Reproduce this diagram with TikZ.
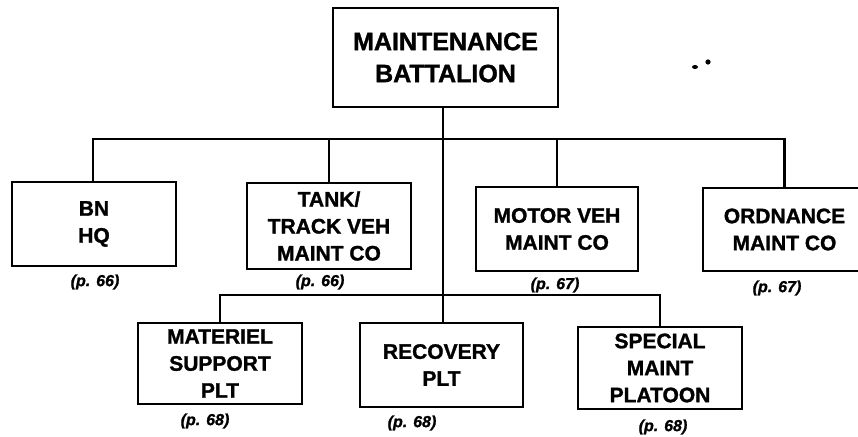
\documentclass[tikz,border=0pt]{standalone}
\usepackage{fontspec}
\setmainfont{Liberation Sans}[BoldFeatures={FakeBold=1.3},BoldItalicFeatures={FakeBold=1.3}]
\begin{document}
\begin{tikzpicture}[x=1pt,y=-1pt,
  box/.style={draw,line width=2.6pt,inner sep=0pt,align=center,font=\bfseries\fontsize{21}{27}\selectfont},
  topbox/.style={box,font=\bfseries\fontsize{25}{32}\selectfont},
  pg/.style={font=\bfseries\itshape\fontsize{16}{18}\selectfont,inner sep=0pt},
  wire/.style={line width=2.6pt}]
\useasboundingbox (0,0) rectangle (858,436);
\node[topbox,minimum width=225pt,minimum height=99pt] (top) at (445.5,57.5) {MAINTENANCE\\BATTALION};
\node[box,minimum width=164pt,minimum height=84pt] (bn) at (94,224) {BN\\HQ};
\node[box,minimum width=164pt,minimum height=86pt] (tank) at (329,226) {TANK/\\TRACK VEH\\MAINT CO};
\node[box,minimum width=162pt,minimum height=84pt] (motor) at (557,229) {MOTOR VEH\\MAINT CO};
\node[box,minimum width=163pt,minimum height=83pt] (ord) at (784.5,229.5) {ORDNANCE\\MAINT CO};
\node[box,minimum width=164pt,minimum height=81pt] (mat) at (220,363.5) {MATERIEL\\SUPPORT\\PLT};
\node[box,minimum width=163pt,minimum height=84pt] (rec) at (441.5,365) {RECOVERY\\PLT};
\node[box,minimum width=164pt,minimum height=82pt] (spec) at (660,368) {SPECIAL\\MAINT\\PLATOON};
\node[pg] (pbn) at (95,282) {(p. 66)};
\node[pg] (ptank) at (320,282) {(p. 66)};
\node[pg] (pmotor) at (555,285) {(p. 67)};
\node[pg] (pord) at (777,288) {(p. 67)};
\node[pg] (pmat) at (205,421) {(p. 68)};
\node[pg] (prec) at (412,423) {(p. 68)};
\node[pg] (pspec) at (663,427) {(p. 68)};
\coordinate (bus1) at (443,139);
\coordinate (bus2) at (443,295);
\draw[wire] (bn.north -| 93,0) |- (bus1) -| (ord.north);
\draw[wire] (tank.north) -- (tank.north |- bus1);
\draw[wire] (motor.north) -- (motor.north |- bus1);
\draw[wire] (top.south -| bus1) -- (rec.north -| bus1);
\draw[wire] (mat.north) |- (bus2) -| (spec.north);
\fill (695,67) ellipse (3pt and 2pt);
\fill (708,62) circle (2.6pt);
\end{tikzpicture}
\end{document}
